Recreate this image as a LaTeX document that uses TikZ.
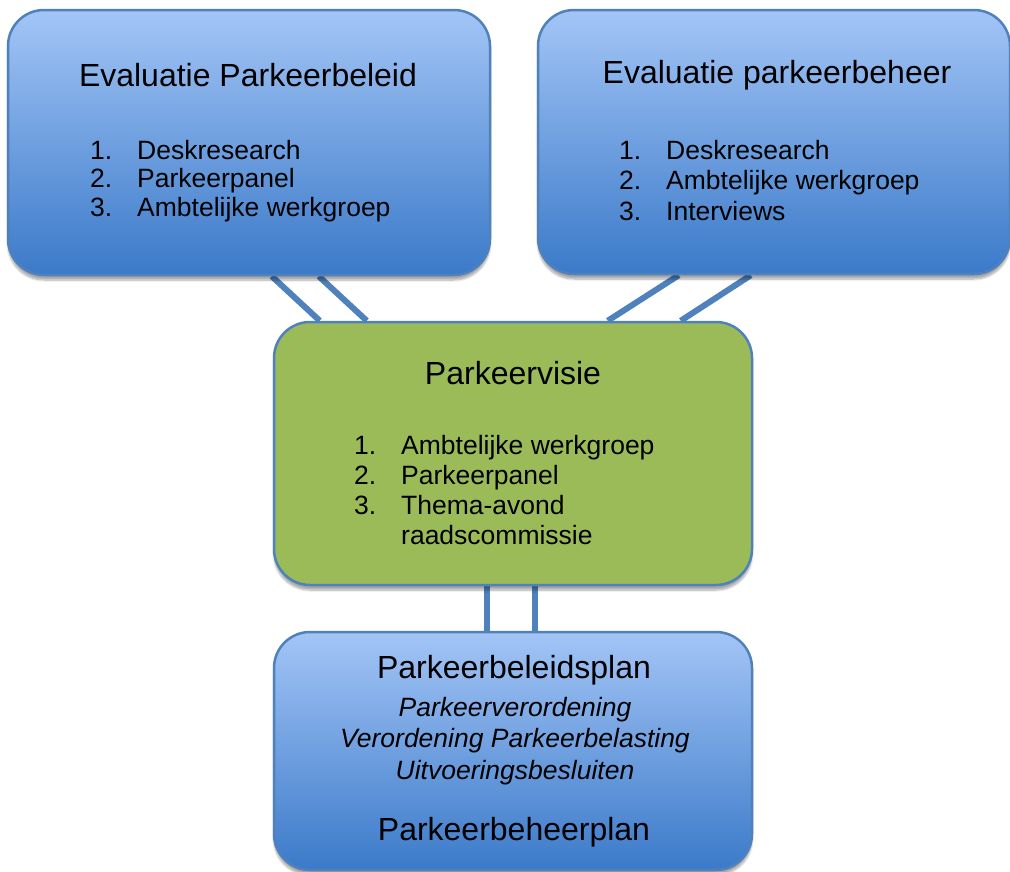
\documentclass[tikz,border=0pt]{standalone}
\usepackage{fontspec}
\setmainfont{Liberation Sans}
\usetikzlibrary{calc,backgrounds,shadows.blur}

\definecolor{rand}{RGB}{79,129,189}
\definecolor{lichtblauw}{RGB}{163,197,246}
\definecolor{donkerblauw}{RGB}{59,122,201}
\definecolor{groen}{RGB}{155,187,89}

\newcommand{\kop}{\fontsize{32}{38}\selectfont}
\newcommand{\lijst}[1]{\fontsize{26.5}{#1}\selectfont}
\newcommand{\nr}[1]{\makebox[47pt][l]{#1}}

\tikzset{
    blok/.style={draw=rand, line width=2.5pt, rounded corners=36pt,
        blur shadow={shadow xshift=0pt, shadow yshift=-5pt, shadow blur steps=8, shadow opacity=35}},
    blauwblok/.style={blok, top color=lichtblauw, bottom color=donkerblauw},
    groenblok/.style={blok, fill=groen},
    verbinding/.style={draw=rand, line width=6pt},
    tekst/.style={inner sep=0pt, text=black}
}

\begin{document}
\begin{tikzpicture}[x=1pt, y=-1pt]
    \useasboundingbox (0,0) rectangle (1010,871);

    % vakken
    \node[blauwblok, minimum width=482pt, minimum height=265pt] (beleid) at (249,142.5) {};
    \node[blauwblok, minimum width=472pt, minimum height=264pt] (beheer) at (774,142) {};
    \node[groenblok, minimum width=478pt, minimum height=263pt] (visie) at (513,453.5) {};
    \node[blauwblok, minimum width=478pt, minimum height=238pt] (plan) at (513,751) {};

    % verbindingen
    \begin{scope}[on background layer]
        \draw[verbinding] ($(beleid.south west)+(265,0)$) -- ($(visie.north west)+(47,0)$);
        \draw[verbinding] ($(beleid.south west)+(312,0)$) -- ($(visie.north west)+(94,0)$);
        \draw[verbinding] ($(beheer.south west)+(142,0)$) -- ($(visie.north west)+(335,0)$);
        \draw[verbinding] ($(beheer.south west)+(214,0)$) -- ($(visie.north west)+(408,0)$);
        \draw[verbinding] ($(visie.south west)+(214,0)$) -- ($(plan.north west)+(214,0)$);
        \draw[verbinding] ($(visie.south west)+(262,0)$) -- ($(plan.north west)+(262,0)$);
    \end{scope}

    % teksten
    \node[tekst, font=\kop] (beleidkop) at (248,75) {Evaluatie Parkeerbeleid};
    \node[tekst, font={\lijst{28.5}}, align=left, anchor=north west] (beleidlijst) at (90,140)
        {\nr{1.}Deskresearch\\ \nr{2.}Parkeerpanel\\ \nr{3.}Ambtelijke werkgroep};

    \node[tekst, font=\kop] (beheerkop) at (777,75) {Evaluatie parkeerbeheer};
    \node[tekst, font={\lijst{30.5}}, align=left, anchor=north west] (beheerlijst) at (619,140)
        {\nr{1.}Deskresearch\\ \nr{2.}Ambtelijke werkgroep\\ \nr{3.}Interviews};

    \node[tekst, font=\kop] (visiekop) at (513,373) {Parkeervisie};
    \node[tekst, font={\lijst{30}}, align=left, anchor=north west] (visielijst) at (354,435)
        {\nr{1.}Ambtelijke werkgroep\\ \nr{2.}Parkeerpanel\\ \nr{3.}Thema-avond\\ \nr{}raadscommissie};

    \node[tekst, font=\kop] (plankop) at (514,670) {Parkeerbeleidsplan};
    \node[tekst, font={\lijst{31.5}\itshape}, align=center, anchor=north] (planlijst) at (515,697)
        {Parkeerverordening\\ Verordening Parkeerbelasting\\ Uitvoeringsbesluiten};
    \node[tekst, font=\kop] (beheerplan) at (514,832) {Parkeerbeheerplan};
\end{tikzpicture}
\end{document}
